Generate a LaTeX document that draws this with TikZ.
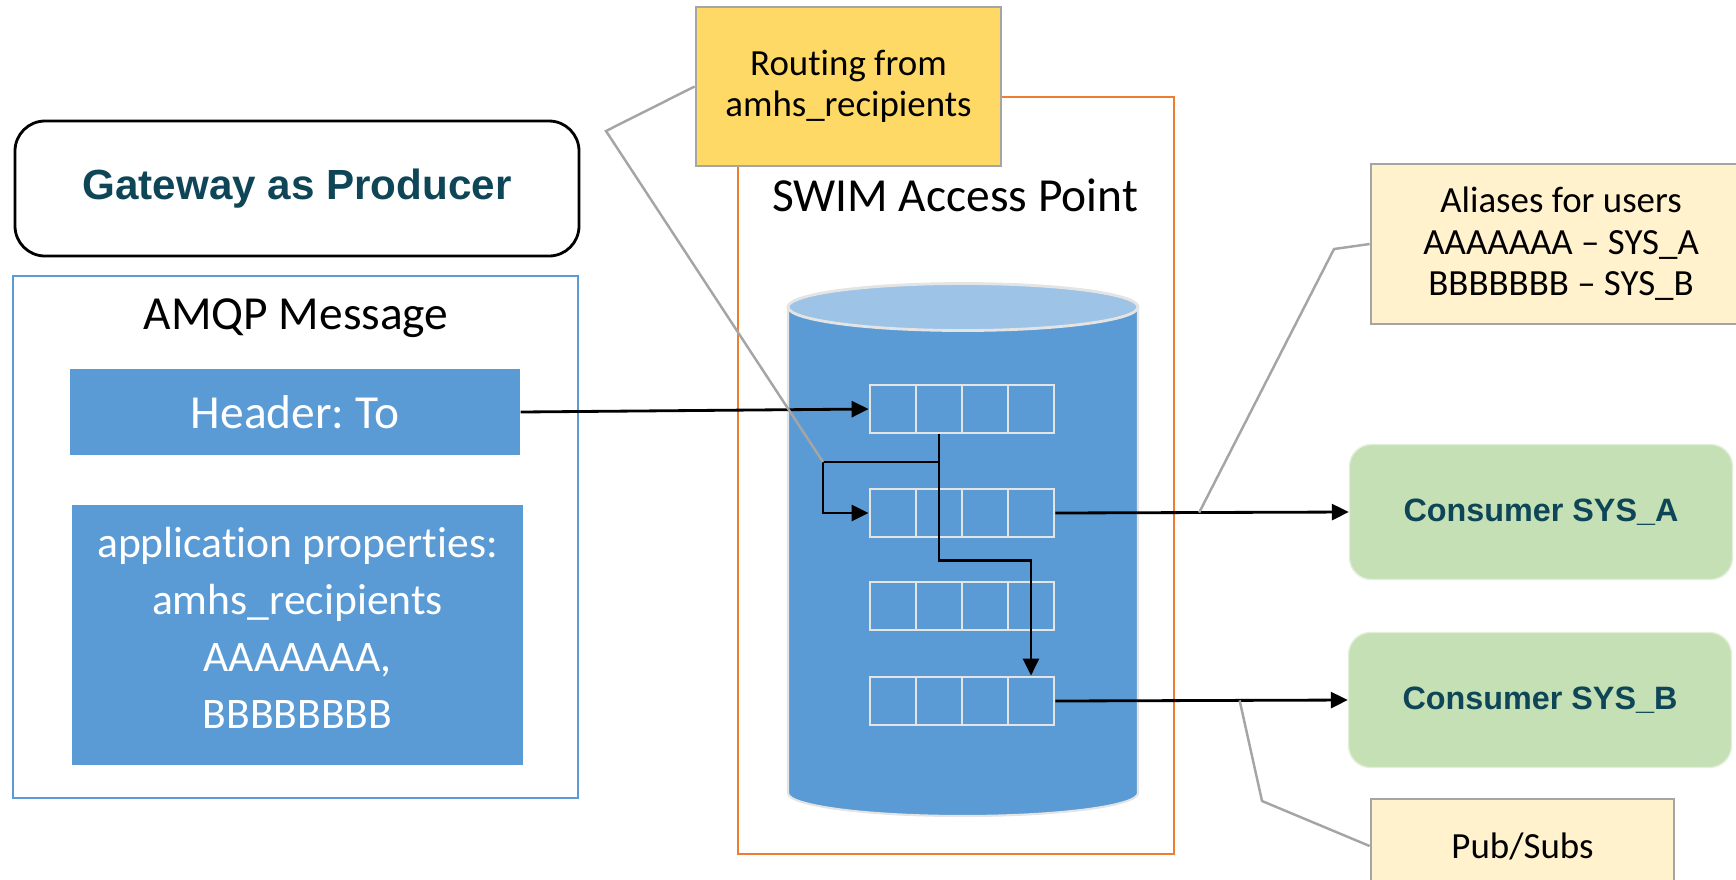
\documentclass[tikz,border=0pt]{standalone}
\usepackage{fontspec}
\setmainfont{Carlito}[Ligatures=NoCommon]
\newfontfamily\arialfont{Liberation Sans}
\usetikzlibrary{arrows.meta}
\frenchspacing

\definecolor{msgblue}{HTML}{5B9BD5}
\definecolor{toplight}{HTML}{9DC3E6}
\definecolor{aporange}{HTML}{ED7D31}
\definecolor{notegold}{HTML}{FFD966}
\definecolor{notecream}{HTML}{FFF2CC}
\definecolor{consgreen}{HTML}{C5E0B4}
\definecolor{darkteal}{HTML}{0E4658}
\definecolor{callgray}{HTML}{A5A5A5}
\definecolor{rimgray}{HTML}{E4E4E4}

\tikzset{
  bigtxt/.style={font=\fontsize{13.5}{16.2}\selectfont},
  notetxt/.style={font=\fontsize{10.5}{11.8}\selectfont},
  msgbox/.style={fill=msgblue, text=white, align=center, inner sep=0pt},
  note/.style={draw=callgray, line width=0.8pt, notetxt, align=center, inner sep=0pt},
  consumer/.style={fill=consgreen, draw=consgreen!50!white, rounded corners=0.22cm,
    text=darkteal, font=\fontsize{9.2}{11}\selectfont\arialfont\bfseries,
    minimum width=3.83cm, minimum height=1.35cm},
  cell/.style={draw=rimgray, line width=0.8pt, minimum width=0.46cm,
    minimum height=0.48cm, inner sep=0pt},
  flow/.style={line width=0.8pt, -{Triangle[length=0.17cm,width=0.16cm]}},
  callout/.style={draw=callgray, line width=0.7pt}
}

\begin{document}
\begin{tikzpicture}
\useasboundingbox (0,0) rectangle (17.36,8.79);

% producer
\node[draw, line width=0.8pt, rounded corners=0.3cm, minimum width=5.64cm, minimum height=1.35cm,
  text=darkteal, font=\fontsize{12}{14}\selectfont\arialfont\bfseries] (gateway) at (2.97,6.905) {Gateway as Producer};
\node[draw=msgblue, line width=0.7pt, minimum width=5.65cm, minimum height=5.22cm] (msg) at (2.955,3.42) {};
\node[bigtxt] (amqp) at (2.96,5.61) {AMQP Message};
\node[msgbox, bigtxt, minimum width=4.5cm, minimum height=0.86cm] (header) at (2.95,4.67) {Header: To};
\node[msgbox, font=\fontsize{12.4}{16.2}\selectfont, minimum width=4.51cm, minimum height=2.6cm] (props) at (2.975,2.44)
  {application properties:\\amhs\_recipients\\AAAAAAA,\\BBBBBBBB\\[-0.42cm]};

% access point
\node[draw=aporange, line width=0.8pt, minimum width=4.36cm, minimum height=7.57cm] (swim) at (9.56,4.035) {};
\node[bigtxt] (swimlbl) at (9.55,6.84) {SWIM Access Point};

\fill[msgblue] (7.88,5.72) -- (7.88,0.86) arc[start angle=180, end angle=360, x radius=1.75, y radius=0.23] -- (11.38,5.72) -- cycle;
\draw[rimgray, line width=0.6pt] (7.88,5.72) -- (7.88,0.86) arc[start angle=180, end angle=360, x radius=1.75, y radius=0.23] -- (11.38,5.72);
\filldraw[fill=toplight, draw=rimgray, line width=0.8pt] (9.63,5.72) ellipse (1.75 and 0.235);

\foreach \r/\y in {1/4.70,2/3.66,3/2.73,4/1.78}
  \foreach \c in {1,...,4}
    \node[cell] (q\r-\c) at ({8.47+0.46*\c},\y) {};

\node[note, fill=notegold, minimum width=3.05cm, minimum height=1.59cm] (routing) at (8.485,7.925) {Routing from\\amhs\_recipients};

% consumers
\node[consumer] (consA) at (15.41,3.67) {Consumer SYS\_A};
\node[consumer] (consB) at (15.40,1.79) {Consumer SYS\_B};

\node[note, fill=notecream, minimum width=3.8cm, minimum height=1.6cm] (aliases) at (15.61,6.35)
  {Aliases for users\\AAAAAAA -- SYS\_A\\BBBBBBB -- SYS\_B};
\node[note, fill=notecream, minimum width=3.03cm, minimum height=0.94cm] (pubsub) at (15.225,0.33) {Pub/Subs};

% flows
\coordinate (split) at (9.39,4.17);
\coordinate (turn) at (8.23,4.17);
\draw[flow] (header.east) -- (q1-1.west);
\draw[flow] (q1-2.south) -- ++(0,-1.26) -| (q4-4.north);
\draw[flow] (split) -- (turn) |- (q2-1.west);
\draw[flow] (q2-4.east) -- (consA.west) coordinate[pos=0.49] (tapA);
\draw[flow] (q4-4.east) -- (consB.west) coordinate[pos=0.63] (tapB);

% callouts
\draw[callout] (routing.west) -- (6.06,7.48) -- (turn);
\draw[callout] (aliases.west) -- (13.34,6.30) -- (tapA);
\draw[callout] (pubsub.west) -- (12.62,0.78) -- (tapB);

\end{tikzpicture}
\end{document}
